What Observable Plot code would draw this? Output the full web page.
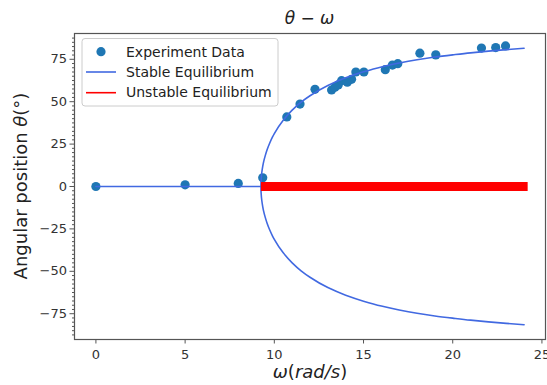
<!DOCTYPE html>
<html>
<head>
<meta charset="utf-8">
<script src="https://cdn.jsdelivr.net/npm/d3@7"></script>
<script src="https://cdn.jsdelivr.net/npm/@observablehq/plot@0.6"></script>
<style>
  html, body { margin: 0; padding: 0; background: white; }
  #chart { width: 547px; height: 385px; }
</style>
</head>
<body>
<div id="chart"></div>
<script>
// Experiment data (omega in rad/s, theta in degrees)
const expOmega = [0, 5.0, 7.98, 9.35, 10.7, 11.44, 12.28, 13.21, 13.40, 13.58, 13.77, 14.09, 14.33, 14.57, 15.02, 16.22, 16.62, 16.92, 18.16, 19.05, 21.61, 22.41, 22.96];
const expTheta = [0, 1.0, 1.8, 5.1, 41.0, 48.6, 57.3, 56.9, 58.5, 59.9, 62.4, 61.5, 63.2, 67.5, 67.5, 68.9, 71.6, 72.4, 78.6, 77.6, 81.6, 81.9, 82.9];

// Stable equilibrium curve: flat branch, then lower and upper branches
const flatOmega = [0, 9.25];
const flatTheta = [0, 0];
const branchOmega = [9.25, 9.26, 9.3, 9.35, 9.4, 9.5, 9.6, 9.75, 9.9, 10, 10.5, 11, 11.5, 12, 13, 14, 15, 16, 17, 18, 19, 20, 21, 22, 23, 24];
const branchTheta = [0, 3.8, 8.4, 11.8, 14.5, 18.5, 21.8, 25.8, 29.2, 31.2, 39.1, 45.0, 49.7, 53.5, 59.6, 64.1, 67.6, 70.5, 72.8, 74.7, 76.3, 77.6, 78.8, 79.8, 80.7, 81.5];

// Unstable equilibrium
const unstableOmega = [9.25, 24.2];
const unstableTheta = [0, 0];

// Ticks
const xTicks = [0, 5, 10, 15, 20, 25];
const yTicks = [-75, -50, -25, 0, 25, 50, 75];
const yMinorTicks = d3.range(-87.5, 90, 2.5).filter(v => !yTicks.includes(v));

// Build tables
const expData = expOmega.map((w, i) => ({w, t: expTheta[i]}));
const flatData = flatOmega.map((w, i) => ({w, t: flatTheta[i]}));
const lower = branchOmega.map((w, i) => ({w, t: -branchTheta[i]})).reverse();
const upper = branchOmega.map((w, i) => ({w, t: branchTheta[i]})).slice(1);
const branchData = lower.concat(upper);
const unstableData = unstableOmega.map((w, i) => ({w, t: unstableTheta[i]}));

const C_DOT = "#1f77b4", C_LINE = "#4169e1", C_RED = "#ff0000";

const chart = Plot.plot({
  width: 547, height: 385,
  marginLeft: 74, marginRight: 2, marginTop: 33, marginBottom: 46,
  style: {fontFamily: "'DejaVu Sans', sans-serif", fontSize: "13px", color: "#333", background: "white"},
  x: {domain: [-1.2, 25.2], label: null},
  y: {domain: [-90.2, 90.2], label: null},
  marks: [
    Plot.axisY(yMinorTicks, {tickSize: 2, tickFormat: () => "", label: null, stroke: "#555"}),
    Plot.axisY(yTicks, {tickSize: 4.5, tickPadding: 3, label: null, stroke: "#555"}),
    Plot.axisX(xTicks, {tickSize: 4.5, tickPadding: 6, label: null, stroke: "#555"}),
    Plot.dot(expData, {x: "w", y: "t", r: 4.6, fill: C_DOT, stroke: "none"}),
    Plot.line(flatData, {x: "w", y: "t", stroke: C_LINE, strokeWidth: 1.6}),
    Plot.line(branchData, {x: "w", y: "t", stroke: C_LINE, strokeWidth: 1.6, curve: "monotone-y"}),
    Plot.line(unstableData, {x: "w", y: "t", stroke: C_RED, strokeWidth: 9, strokeLinecap: "butt"}),
    Plot.frame({stroke: "#555", strokeWidth: 1.2})
  ]
});

document.getElementById("chart").appendChild(chart);

const svg = d3.select(chart);
const font = "'DejaVu Sans', sans-serif";

// Title
const title = svg.append("text")
  .attr("x", 309.5).attr("y", 24)
  .attr("text-anchor", "middle")
  .attr("font-family", font).attr("font-size", 17).attr("fill", "#222");
title.append("tspan").attr("font-style", "italic").text("θ");
title.append("tspan").text(" − ");
title.append("tspan").attr("font-style", "italic").text("ω");

// X label
const xl = svg.append("text")
  .attr("x", 310).attr("y", 378)
  .attr("text-anchor", "middle")
  .attr("font-family", font).attr("font-size", 18).attr("fill", "#222");
xl.append("tspan").attr("font-style", "italic").text("ω");
xl.append("tspan").text("(");
xl.append("tspan").attr("font-style", "italic").text("rad/s");
xl.append("tspan").text(")");

// Y label
const yl = svg.append("text")
  .attr("transform", "translate(26.5,186) rotate(-90)")
  .attr("text-anchor", "middle")
  .attr("font-family", font).attr("font-size", 18).attr("fill", "#222");
yl.append("tspan").text("Angular position ");
yl.append("tspan").attr("font-style", "italic").text("θ");
yl.append("tspan").text("(°)");

// Legend
const lg = svg.append("g").attr("font-family", font).attr("font-size", 14)
  .attr("fill", "#222").attr("text-anchor", "start");
lg.append("rect").attr("x", 82).attr("y", 38.5).attr("width", 196).attr("height", 67.5)
  .attr("rx", 3).attr("fill", "white").attr("fill-opacity", 0.85).attr("stroke", "#cccccc");
lg.append("circle").attr("cx", 101).attr("cy", 51.7).attr("r", 4.6).attr("fill", C_DOT);
lg.append("text").attr("x", 126).attr("y", 56.5).attr("text-anchor", "start").text("Experiment Data");
lg.append("line").attr("x1", 86).attr("x2", 116).attr("y1", 72).attr("y2", 72)
  .attr("stroke", C_LINE).attr("stroke-width", 1.6);
lg.append("text").attr("x", 126).attr("y", 76.5).attr("text-anchor", "start").text("Stable Equilibrium");
lg.append("line").attr("x1", 86).attr("x2", 116).attr("y1", 92.7).attr("y2", 92.7)
  .attr("stroke", C_RED).attr("stroke-width", 1.6);
lg.append("text").attr("x", 126).attr("y", 97).attr("text-anchor", "start").text("Unstable Equilibrium");
</script>
</body>
</html>
